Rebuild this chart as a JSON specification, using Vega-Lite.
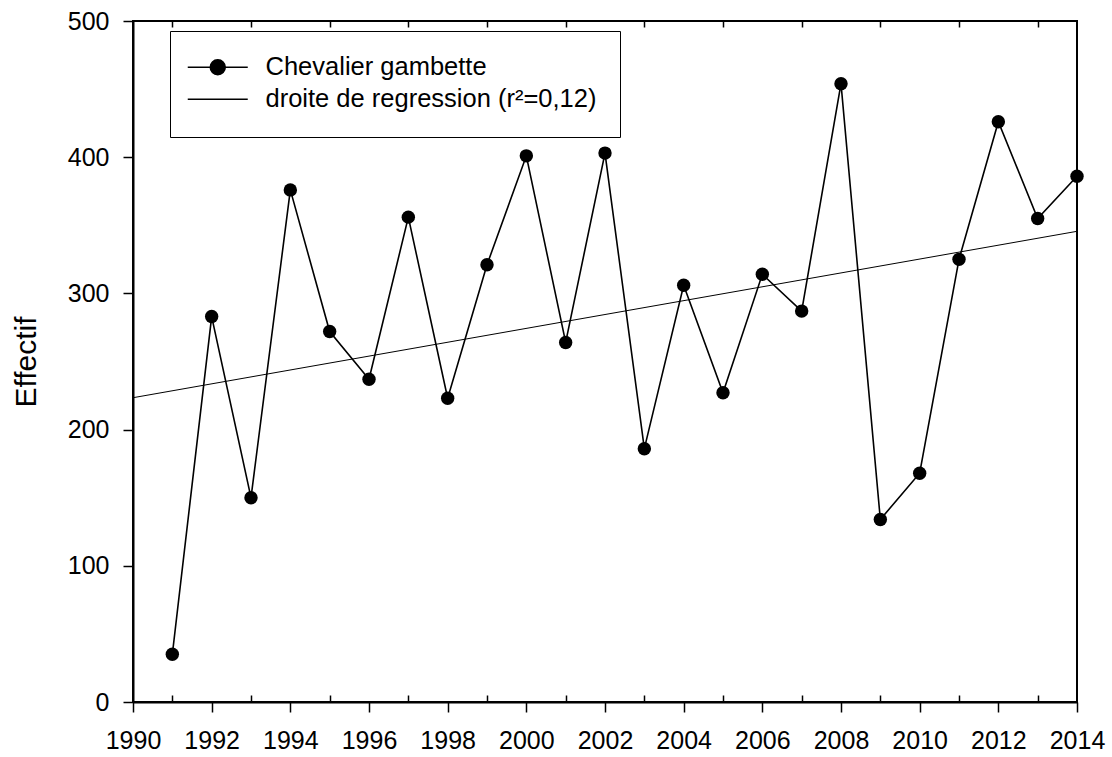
{
  "$schema": "https://vega.github.io/schema/vega-lite/v6.json",
  "width": 944,
  "height": 681,
  "autosize": "none",
  "padding": {"left": 133, "top": 21, "right": 35, "bottom": 55},
  "background": "white",
  "config": {
    "view": {"stroke": "black", "strokeWidth": 2},
    "font": "Liberation Sans",
    "axis": {
      "domainColor": "black", "domainWidth": 2,
      "tickColor": "black", "tickWidth": 1.5,
      "labelColor": "black", "labelFont": "Liberation Sans", "labelFontSize": 25,
      "titleFont": "Liberation Sans", "titleFontWeight": "normal", "titleColor": "black",
      "grid": false
    }
  },
  "data": {
    "values": [
      {"year": 1991, "value": 35},
      {"year": 1992, "value": 283},
      {"year": 1993, "value": 150},
      {"year": 1994, "value": 376},
      {"year": 1995, "value": 272},
      {"year": 1996, "value": 237},
      {"year": 1997, "value": 356},
      {"year": 1998, "value": 223},
      {"year": 1999, "value": 321},
      {"year": 2000, "value": 401},
      {"year": 2001, "value": 264},
      {"year": 2002, "value": 403},
      {"year": 2003, "value": 186},
      {"year": 2004, "value": 306},
      {"year": 2005, "value": 227},
      {"year": 2006, "value": 314},
      {"year": 2007, "value": 287},
      {"year": 2008, "value": 454},
      {"year": 2009, "value": 134},
      {"year": 2010, "value": 168},
      {"year": 2011, "value": 325},
      {"year": 2012, "value": 426},
      {"year": 2013, "value": 355},
      {"year": 2014, "value": 386}
    ]
  },
  "layer": [
    {
      "mark": {"type": "line", "strokeWidth": 1.6, "point": {"filled": true, "size": 180, "opacity": 1}},
      "encoding": {
        "x": {
          "field": "year", "type": "quantitative",
          "scale": {"domain": [1990, 2014], "nice": false, "zero": false},
          "axis": {
            "orient": "bottom",
            "values": [1990, 1991, 1992, 1993, 1994, 1995, 1996, 1997, 1998, 1999, 2000, 2001, 2002, 2003, 2004, 2005, 2006, 2007, 2008, 2009, 2010, 2011, 2012, 2013, 2014],
            "labelExpr": "datum.value % 2 === 0 ? format(datum.value, 'd') : ''",
            "tickSize": {"condition": {"test": "datum.value % 2 !== 0", "value": -7}, "value": 10},
            "labelPadding": 16, "labelFlush": false, "labelOverlap": false, "title": null
          }
        },
        "y": {
          "field": "value", "type": "quantitative",
          "scale": {"domain": [0, 500], "nice": false},
          "axis": {
            "values": [0, 100, 200, 300, 400, 500],
            "tickSize": 10, "labelPadding": 14,
            "title": "Effectif", "titleFontSize": 30, "titlePadding": 26
          }
        },
        "color": {
          "datum": "Chevalier gambette",
          "scale": {"domain": ["Chevalier gambette", "droite de regression (r²=0,12)"], "range": ["black", "black"]},
          "legend": {
            "orient": "none", "legendX": 37, "legendY": 10,
            "title": null,
            "strokeColor": "black", "fillColor": "white",
            "padding": 23.5,
            "symbolSize": 400, "symbolStrokeWidth": 1.5,
            "symbolFillColor": "black", "symbolStrokeColor": "black",
            "labelFont": "Liberation Sans", "labelFontSize": 25.5, "labelColor": "black",
            "labelOffset": 46.5, "rowPadding": 5, "labelLimit": 600,
            "encode": {
              "symbols": {
                "update": {
                  "shape": {"signal": "datum.value === 'Chevalier gambette' ? 'M-1.85,0H4.15M1.9,0A0.75,0.75 0 1,1 0.4,0A0.75,0.75 0 1,1 1.9,0Z' : 'M-1.85,0H4.15'"},
                  "fill": {"value": "black"},
                  "stroke": {"value": "black"},
                  "opacity": {"value": 1}
                }
              }
            }
          }
        }
      }
    },
    {
      "transform": [{"regression": "value", "on": "year", "extent": [1990, 2014]}],
      "mark": {"type": "line", "strokeWidth": 1},
      "encoding": {
        "x": {
          "field": "year", "type": "quantitative",
          "axis": {
            "orient": "top",
            "values": [1991, 1993, 1995, 1997, 1999, 2001, 2003, 2005, 2007, 2009, 2011, 2013],
            "offset": -6, "tickSize": 6, "labels": false, "domain": false, "title": null
          }
        },
        "y": {"field": "value", "type": "quantitative"},
        "color": {"datum": "droite de regression (r²=0,12)"}
      }
    }
  ],
  "resolve": {"axis": {"x": "independent"}}
}
